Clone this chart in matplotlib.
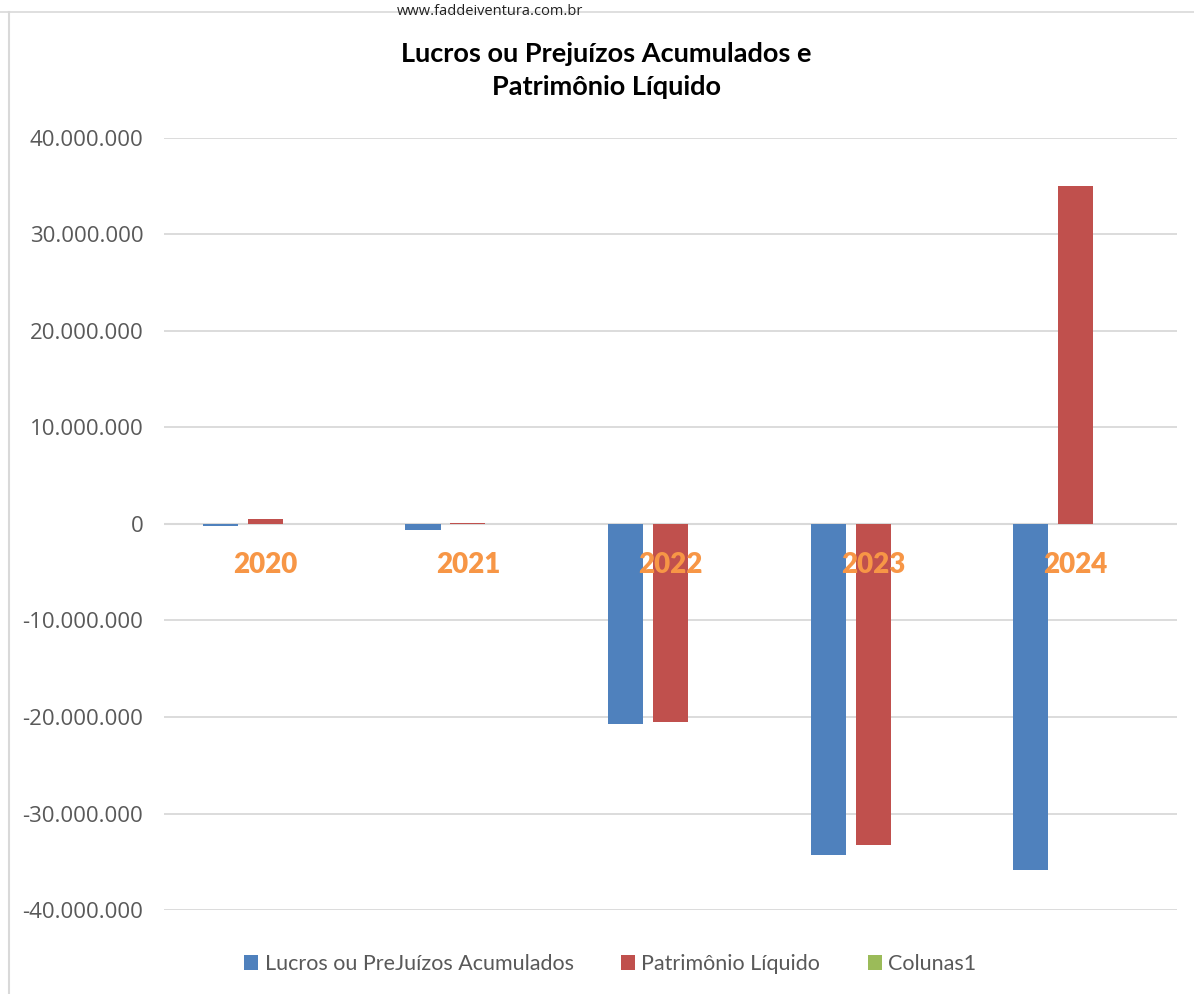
import numpy as np
import matplotlib
matplotlib.use("Agg")
import matplotlib.pyplot as plt
from matplotlib.lines import Line2D
from matplotlib.ticker import FuncFormatter

YEARS = ["2020", "2021", "2022", "2023", "2024"]
SERIES = ["Lucros ou PreJuízos Acumulados", "Patrimônio Líquido", "Colunas1"]
LUCROS = [-200_000, -600_000, -20_700_000, -34_300_000, -35_900_000]
PATRIMONIO = [500_000, 100_000, -20_500_000, -33_300_000, 35_000_000]
COLUNAS1 = [0, 0, 0, 0, 0]
COLORS = ["#4F81BD", "#C0504D", "#9BBB59"]
TITLE = "Lucros ou Prejuízos Acumulados e\nPatrimônio Líquido"

fig = plt.figure(figsize=(11.94, 9.94), dpi=100)
ax = fig.add_axes([0.1374, 0.0845, 0.8484, 0.7767])

x = np.arange(len(YEARS))
w = 0.173
step = 0.222
for i, (vals, name) in enumerate(zip([LUCROS, PATRIMONIO, COLUNAS1], SERIES)):
    ax.bar(x + (i - 1) * step, vals, width=w, color=COLORS[i], label=name,
           linewidth=0, zorder=3)

ax.set_xlim(-0.5, len(YEARS) - 0.5)
ax.set_ylim(-40_000_000, 40_000_000)
ax.set_yticks(np.arange(-40_000_000, 40_000_001, 10_000_000))
ax.yaxis.set_major_formatter(FuncFormatter(lambda v, _: f"{int(v):,}".replace(",", ".")))
ax.tick_params(axis="y", length=0, pad=15, labelsize=16, labelcolor="#595959")
for lab in ax.get_yticklabels():
    lab.set_family("Open Sans")
ax.set_xticks([])
ax.grid(axis="y", color="#d9d9d9", lw=1.3, zorder=0)
for s in ax.spines.values():
    s.set_visible(False)
ax.axhline(0, color="#d9d9d9", lw=1.5, zorder=2)

# year labels sit just under the zero line, over the bars
for xi, yr in zip(x, YEARS):
    ax.text(xi, -4_300_000, yr, ha="center", va="center", fontsize=20,
            fontweight="heavy", color="#F79646", family="Lato", zorder=5)

fig.text(0.508, 0.929, TITLE, ha="center", va="center", fontsize=19.5,
         fontweight="bold", family="Lato", linespacing=1.45)

leg = fig.legend(*ax.get_legend_handles_labels(), loc="center",
                 bbox_to_anchor=(0.511, 0.030), ncol=3, frameon=False,
                 prop={"family": "Lato", "size": 15.5}, handlelength=0.65,
                 handleheight=0.65, handletextpad=0.3, columnspacing=2.2)
for t in leg.get_texts():
    t.set_color("#595959")

fig.text(0.41, 0.996, "www.faddeiventura.com.br", ha="center", va="top",
         fontsize=10.5, family="Open Sans", color="#222222")
fig.add_artist(Line2D([0, 1], [0.988, 0.988], color="#d9d9d9", lw=1.2))
fig.add_artist(Line2D([0.0075, 0.0075], [0, 0.988], color="#d9d9d9", lw=1.5))

fig.savefig("out.png", dpi=100)
